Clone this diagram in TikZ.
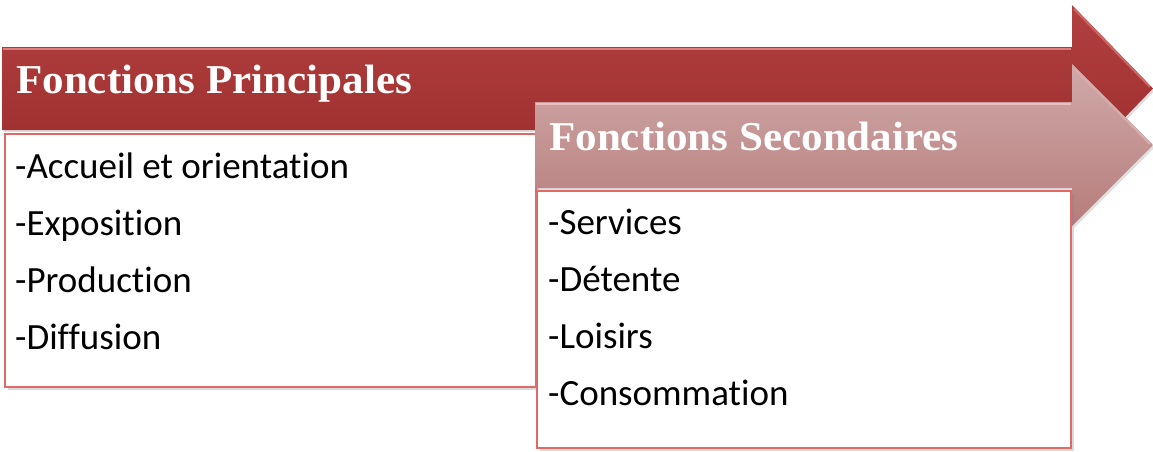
\documentclass[tikz,border=0pt]{standalone}
\usepackage{fontspec}
\setmainfont{Carlito}[Ligatures=NoCommon]
\newfontfamily\headfont[FakeStretch=1.05]{Liberation Serif}
\usetikzlibrary{shadows}

\definecolor{mainred}{HTML}{AA302F}
\definecolor{mainhi}{HTML}{E27C7A}
\definecolor{secpink}{HTML}{B67C7B}
\definecolor{sechi}{HTML}{EDBFBE}
\definecolor{boxline}{HTML}{E06A6A}

\begin{document}
\begin{tikzpicture}[x=1pt, y=-1pt]
    % Define styles
    \tikzstyle{mainarrow} = [top color=mainred!92!white, bottom color=mainred!92!black, drop shadow={opacity=0.25, shadow xshift=2pt, shadow yshift=-2pt}]
    \tikzstyle{secarrow} = [top color=secpink!65!white, bottom color=secpink, drop shadow={opacity=0.25, shadow xshift=2pt, shadow yshift=-2pt}]
    \tikzstyle{box} = [rectangle, draw=boxline, line width=1.5pt, fill=white, anchor=north west, inner sep=0, drop shadow={opacity=0.3, shadow xshift=3pt, shadow yshift=-3pt}]
    \tikzstyle{headtext} = [anchor=base west, inner sep=0, text=white, font=\headfont\bfseries\fontsize{41}{41}\selectfont]
    \tikzstyle{item} = [anchor=base west, inner sep=0, font=\fontsize{37}{37}\selectfont]

    \useasboundingbox (0,0) rectangle (1153,451);

    % Arrows
    \path[mainarrow] (2,47) -- (1072,47) -- (1072,5) -- (1153,88.5) -- (1072,172) -- (1072,130) -- (2,130) -- cycle;
    \draw[mainhi, line width=2.5pt] (3,49) -- (1071,49);
    \draw[mainhi!70!mainred, line width=2pt] (1074,9) -- (1150,87);

    % Nodes
    \node[box, minimum width=531pt, minimum height=253pt] (mainbox) at (4,133) {};

    \path[secarrow] (535,102) -- (1072,102) -- (1072,64) -- (1153,145) -- (1072,226) -- (1072,188) -- (535,188) -- cycle;
    \draw[sechi, line width=2.5pt] (536,104) -- (1071,104);
    \draw[sechi!70!secpink, line width=2pt] (1074,68) -- (1150,144);

    \node[box, minimum width=534pt, minimum height=257pt] (secbox) at (536,190) {};

    \node[headtext] (mainhead) at (16,93) {Fonctions Principales};
    \node[headtext] (sechead) at (549,150) {Fonctions Secondaires};

    \foreach \txt [count=\i] in {-Accueil et orientation, -Exposition, -Production, -Diffusion}
        \node[item] (main\i) at (15,{121+57*\i}) {\txt};
    \foreach \txt [count=\i] in {-Services, -Détente, -Loisirs, -Consommation}
        \node[item] (sec\i) at (548,{177+57*\i}) {\txt};
\end{tikzpicture}
\end{document}
